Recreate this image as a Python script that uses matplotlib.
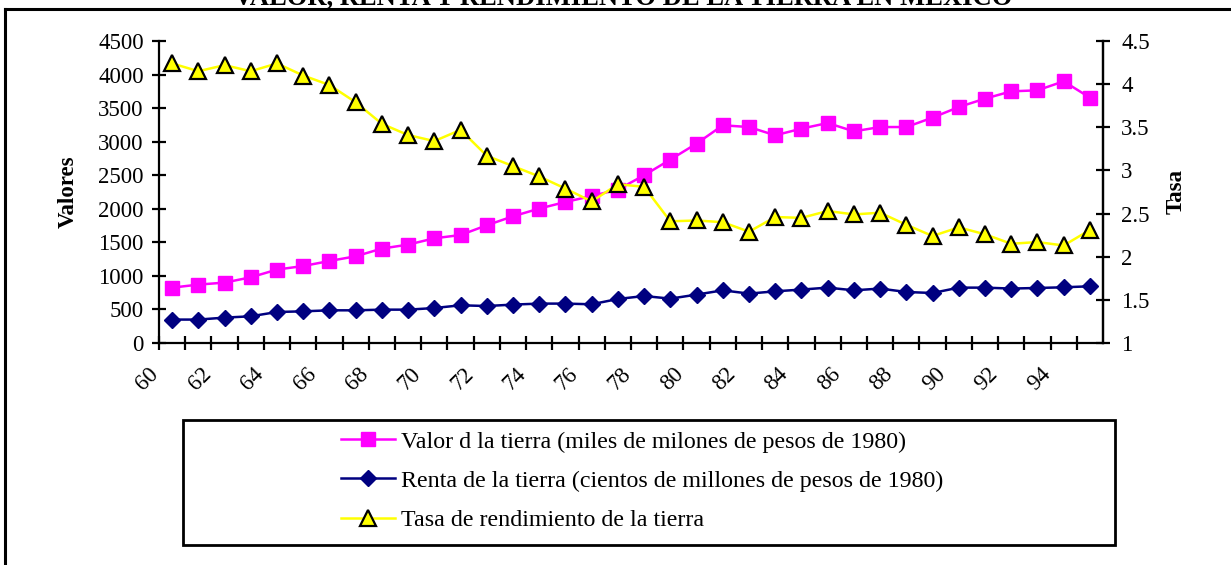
import matplotlib
matplotlib.use("Agg")
import matplotlib.pyplot as plt
from matplotlib.lines import Line2D
from matplotlib.patches import Rectangle
from matplotlib.ticker import FixedLocator, NullFormatter
from matplotlib.transforms import ScaledTranslation

plt.rcParams["font.family"] = ["Liberation Serif", "DejaVu Serif"]

years = [str(y) for y in range(60, 96)]
tick_labels = [str(y) for y in range(60, 96, 2)]

valor = [825, 870, 900, 979, 1094, 1147, 1222, 1292, 1407, 1466, 1560, 1609,
         1754, 1888, 2003, 2101, 2190, 2286, 2499, 2733, 2971, 3244, 3218, 3095,
         3194, 3278, 3154, 3218, 3218, 3358, 3516, 3641, 3750, 3765, 3899, 3656]
renta = [349, 349, 378, 398, 462, 472, 487, 487, 497, 497, 521, 562,
         551, 572, 587, 587, 577, 656, 700, 661, 721, 785, 736, 770,
         796, 825, 785, 811, 760, 745, 825, 825, 811, 820, 830, 845]
tasa = [4.24, 4.15, 4.22, 4.15, 4.24, 4.10, 3.99, 3.79, 3.54, 3.41, 3.34, 3.47,
        3.17, 3.05, 2.93, 2.79, 2.64, 2.84, 2.81, 2.41, 2.42, 2.40, 2.29, 2.46,
        2.45, 2.53, 2.49, 2.51, 2.37, 2.24, 2.34, 2.26, 2.15, 2.17, 2.13, 2.31]

lbl_valor = "Valor d la tierra (miles de milones de pesos de 1980)"
lbl_renta = "Renta de la tierra (cientos de millones de pesos de 1980)"
lbl_tasa = "Tasa de rendimiento de la tierra"
title = "VALOR, RENTA Y RENDIMIENTO DE LA TIERRA EN MEXICO"

W, H = 1231, 565
fig = plt.figure(figsize=(W / 100, H / 100), dpi=100)

# outer frame: only its top and left edges fall inside the picture
fig.lines.append(Line2D([5 / W, 5 / W], [0, 1 - 9 / H],
                        transform=fig.transFigure, color="black", lw=2.2))
fig.lines.append(Line2D([5 / W, 1.05], [1 - 9 / H, 1 - 9 / H],
                        transform=fig.transFigure, color="black", lw=2.2))
fig.text(623 / W, 1 - 5 / H, title, ha="center", va="baseline",
         fontsize=19.2, fontweight="bold")

ax = fig.add_axes([159 / W, 1 - 343 / H, (1103 - 159) / W, (343 - 41) / H])
ax2 = ax.twinx()

x = list(range(len(years)))
l1, = ax.plot(x, valor, color="#FF00FF", lw=1.8, marker="s", ms=10.5,
              mec="#FF00FF", mfc="#FF00FF", zorder=3)
l2, = ax.plot(x, renta, color="#000080", lw=1.8, marker="D", ms=8.5,
              mec="#000080", mfc="#000080", zorder=3)
l3, = ax2.plot(x, tasa, color="#FFFF00", lw=1.8, marker="^", ms=11,
               mec="black", mfc="#FFFF00", mew=1.6, zorder=3)

ax.set_xlim(-0.5, len(years) - 0.5)
ax.set_ylim(0, 4500)
ax2.set_ylim(1, 4.5)
ax.set_yticks(range(0, 4501, 500))
ax2.set_yticks([1, 1.5, 2, 2.5, 3, 3.5, 4, 4.5])
ax2.set_yticklabels(["1", "1.5", "2", "2.5", "3", "3.5", "4", "4.5"])

major = [i - 0.5 for i in range(0, len(years), 2)]
minor = [i - 0.5 for i in range(1, len(years) + 1, 2)]
ax.xaxis.set_major_locator(FixedLocator(major))
ax.xaxis.set_minor_locator(FixedLocator(minor))
ax.set_xticklabels(tick_labels, rotation=45, ha="right")
ax.xaxis.set_minor_formatter(NullFormatter())

for a in (ax, ax2):
    a.spines["top"].set_visible(False)
    for s in a.spines.values():
        s.set_linewidth(1.6)
    a.tick_params(which="both", direction="inout", length=10, width=1.6,
                  labelsize=16.5)
ax.tick_params(axis="y", pad=6)
ax.tick_params(axis="x", which="both", pad=10)
ax2.tick_params(axis="y", pad=8)
ax2.spines["left"].set_visible(False)
ax2.spines["bottom"].set_visible(False)

shift = ScaledTranslation(4 / 100, 0, fig.dpi_scale_trans)
for t in ax.get_xticklabels():
    t.set_transform(t.get_transform() + shift)

ax.set_ylabel("Valores", fontsize=16.5, fontweight="bold")
ax.yaxis.set_label_coords((79 - 159) / 944, 0.5)
ax2.set_ylabel("Tasa", fontsize=16.5, fontweight="bold")
ax2.yaxis.set_label_coords((1166 - 159) / 944, 0.5)

# legend box
fig.patches.append(Rectangle((183 / W, 1 - 545 / H), (1115 - 183) / W,
                             (545 - 420) / H, transform=fig.transFigure,
                             fill=False, lw=2, ec="black"))
fig.legend([l1, l2, l3], [lbl_valor, lbl_renta, lbl_tasa],
           loc="center left", bbox_to_anchor=(341 / W, 1 - 481 / H),
           frameon=False, fontsize=17.3, handlelength=2.25, handletextpad=0.25,
           labelspacing=0.72, borderpad=0, borderaxespad=0)

fig.savefig("out.png", dpi=100)
